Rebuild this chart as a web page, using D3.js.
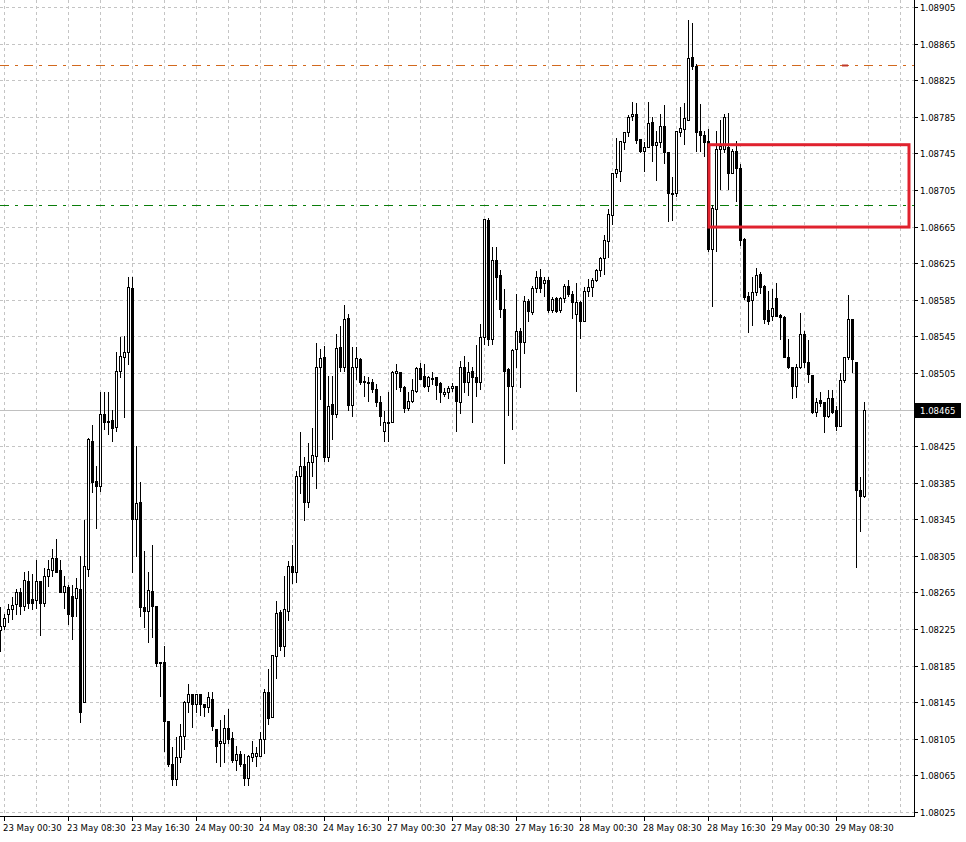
<!DOCTYPE html>
<html><head><meta charset="utf-8">
<script src="https://cdn.jsdelivr.net/npm/d3@7"></script>
<style>html,body{margin:0;padding:0;background:#fff;}svg{display:block;}</style>
</head><body>
<svg id="chart" width="966" height="842"></svg>
<script>
// ---- data (M30 candles) ----
const timeLabels = ["23 May 00:30","23 May 08:30","23 May 16:30","24 May 00:30","24 May 08:30","24 May 16:30","27 May 00:30","27 May 08:30","27 May 16:30","28 May 00:30","28 May 08:30","28 May 16:30","29 May 00:30","29 May 08:30"];
const timeLabelCandle = [1,17,33,49,65,81,97,113,129,145,161,177,193,209];
const priceTicks = [1.08025,1.08065,1.08105,1.08145,1.08185,1.08225,1.08265,1.08305,1.08345,1.08385,1.08425,1.08465,1.08505,1.08545,1.08585,1.08625,1.08665,1.08705,1.08745,1.08785,1.08825,1.08865,1.08905];
const open = [
1.08224,1.08228,1.08241,1.08247,1.08252,1.08265,1.08250,1.08278,1.08258,1.08257,
1.08278,1.08254,1.08283,1.08290,1.08303,1.08290,1.08265,1.08271,1.08261,1.08259,
1.08269,1.08145,1.08291,1.08431,1.08387,1.08381,1.08460,1.08452,1.08453,1.08446,
1.08507,1.08522,1.08528,1.08598,1.08345,1.08364,1.08249,1.08245,1.08267,1.08250,
1.08189,1.08189,1.08124,1.08077,1.08061,1.08085,1.08108,1.08145,1.08154,1.08143,
1.08154,1.08143,1.08140,1.08149,1.08116,1.08100,1.08100,1.08117,1.08106,1.08082,
1.08088,1.08078,1.08062,1.08085,1.08086,1.08086,1.08105,1.08156,1.08129,1.08195,
1.08244,1.08206,1.08245,1.08294,1.08287,1.08392,1.08403,1.08364,1.08408,1.08414,
1.08511,1.08522,1.08413,1.08471,1.08460,1.08533,1.08511,1.08565,1.08470,1.08511,
1.08520,1.08496,1.08495,1.08495,1.08487,1.08473,1.08441,1.08450,1.08451,1.08505,
1.08506,1.08490,1.08467,1.08474,1.08485,1.08510,1.08502,1.08491,1.08499,1.08500,
1.08494,1.08482,1.08484,1.08488,1.08491,1.08473,1.08512,1.08495,1.08507,1.08500,
1.08495,1.08544,1.08672,1.08542,1.08628,1.08612,1.08575,1.08509,1.08491,1.08531,
1.08551,1.08539,1.08584,1.08572,1.08598,1.08610,1.08603,1.08607,1.08574,1.08587,
1.08574,1.08587,1.08600,1.08591,1.08569,1.08583,1.08562,1.08594,1.08599,1.08607,
1.08618,1.08631,1.08649,1.08678,1.08724,1.08726,1.08757,1.08768,1.08786,1.08788,
1.08761,1.08748,1.08752,1.08779,1.08754,1.08757,1.08775,1.08747,1.08701,1.08702,
1.08768,1.08772,1.08782,1.08850,1.08840,1.08769,1.08765,1.08758,1.08640,1.08684,
1.08750,1.08750,1.08752,1.08724,1.08748,1.08729,1.08651,1.08589,1.08585,1.08593,
1.08613,1.08600,1.08574,1.08567,1.08587,1.08568,1.08566,1.08522,1.08512,1.08491,
1.08512,1.08548,1.08517,1.08503,1.08462,1.08475,1.08473,1.08458,1.08478,1.08464,
1.08447,1.08497,1.08522,1.08564,1.08517,1.08377,1.08370];
const high = [
1.08249,1.08241,1.08252,1.08260,1.08269,1.08270,1.08287,1.08288,1.08285,1.08300,
1.08278,1.08292,1.08301,1.08312,1.08323,1.08300,1.08283,1.08273,1.08273,1.08281,
1.08305,1.08344,1.08434,1.08448,1.08403,1.08484,1.08484,1.08484,1.08465,1.08528,
1.08544,1.08545,1.08610,1.08610,1.08425,1.08386,1.08310,1.08287,1.08317,1.08250,
1.08189,1.08206,1.08124,1.08096,1.08107,1.08121,1.08146,1.08165,1.08154,1.08154,
1.08154,1.08143,1.08156,1.08156,1.08116,1.08126,1.08131,1.08138,1.08112,1.08097,
1.08092,1.08088,1.08087,1.08103,1.08096,1.08112,1.08159,1.08181,1.08197,1.08256,
1.08246,1.08283,1.08299,1.08317,1.08398,1.08440,1.08413,1.08428,1.08445,1.08538,
1.08531,1.08534,1.08502,1.08502,1.08547,1.08556,1.08579,1.08569,1.08533,1.08533,
1.08521,1.08502,1.08501,1.08498,1.08493,1.08480,1.08463,1.08484,1.08507,1.08515,
1.08506,1.08491,1.08484,1.08498,1.08511,1.08516,1.08515,1.08502,1.08506,1.08500,
1.08495,1.08489,1.08491,1.08494,1.08491,1.08518,1.08524,1.08517,1.08512,1.08536,
1.08558,1.08673,1.08674,1.08643,1.08643,1.08618,1.08597,1.08510,1.08531,1.08591,
1.08554,1.08589,1.08586,1.08600,1.08616,1.08619,1.08610,1.08610,1.08588,1.08588,
1.08588,1.08602,1.08607,1.08594,1.08603,1.08584,1.08599,1.08608,1.08609,1.08619,
1.08632,1.08656,1.08684,1.08723,1.08762,1.08758,1.08768,1.08787,1.08801,1.08800,
1.08761,1.08757,1.08801,1.08785,1.08769,1.08788,1.08798,1.08747,1.08719,1.08769,
1.08796,1.08800,1.08891,1.08887,1.08843,1.08799,1.08769,1.08772,1.08689,1.08769,
1.08782,1.08788,1.08789,1.08750,1.08759,1.08733,1.08652,1.08593,1.08610,1.08620,
1.08615,1.08601,1.08594,1.08597,1.08603,1.08569,1.08567,1.08542,1.08512,1.08515,
1.08570,1.08551,1.08541,1.08503,1.08478,1.08484,1.08473,1.08486,1.08486,1.08469,
1.08505,1.08522,1.08590,1.08564,1.08517,1.08391,1.08473];
const low = [
1.08201,1.08225,1.08233,1.08236,1.08241,1.08241,1.08246,1.08248,1.08247,1.08248,
1.08218,1.08250,1.08272,1.08283,1.08287,1.08265,1.08248,1.08230,1.08214,1.08239,
1.08123,1.08145,1.08283,1.08375,1.08335,1.08376,1.08444,1.08438,1.08431,1.08441,
1.08500,1.08457,1.08515,1.08287,1.08305,1.08239,1.08227,1.08211,1.08216,1.08185,
1.08152,1.08092,1.08075,1.08055,1.08055,1.08080,1.08094,1.08134,1.08118,1.08134,
1.08131,1.08130,1.08134,1.08115,1.08080,1.08075,1.08080,1.08100,1.08080,1.08071,
1.08075,1.08055,1.08054,1.08081,1.08075,1.08086,1.08090,1.08121,1.08129,1.08172,
1.08202,1.08195,1.08235,1.08275,1.08276,1.08374,1.08344,1.08358,1.08392,1.08379,
1.08476,1.08409,1.08409,1.08433,1.08457,1.08507,1.08507,1.08465,1.08458,1.08498,
1.08493,1.08480,1.08474,1.08484,1.08469,1.08448,1.08431,1.08431,1.08451,1.08487,
1.08485,1.08462,1.08465,1.08473,1.08484,1.08498,1.08490,1.08485,1.08493,1.08476,
1.08473,1.08480,1.08478,1.08485,1.08441,1.08461,1.08484,1.08481,1.08451,1.08480,
1.08487,1.08537,1.08535,1.08537,1.08586,1.08566,1.08406,1.08459,1.08444,1.08512,
1.08490,1.08527,1.08562,1.08569,1.08593,1.08593,1.08589,1.08572,1.08572,1.08572,
1.08572,1.08583,1.08589,1.08565,1.08485,1.08543,1.08562,1.08589,1.08589,1.08605,
1.08611,1.08613,1.08632,1.08668,1.08719,1.08715,1.08750,1.08764,1.08782,1.08756,
1.08746,1.08726,1.08752,1.08737,1.08716,1.08752,1.08735,1.08671,1.08672,1.08698,
1.08764,1.08755,1.08781,1.08837,1.08748,1.08748,1.08742,1.08638,1.08578,1.08638,
1.08706,1.08746,1.08706,1.08724,1.08693,1.08645,1.08586,1.08550,1.08557,1.08590,
1.08592,1.08560,1.08558,1.08563,1.08567,1.08542,1.08522,1.08510,1.08478,1.08479,
1.08510,1.08511,1.08495,1.08461,1.08458,1.08469,1.08440,1.08457,1.08461,1.08443,
1.08447,1.08495,1.08520,1.08506,1.08293,1.08332,1.08369];
const close = [
1.08228,1.08237,1.08247,1.08251,1.08265,1.08250,1.08279,1.08254,1.08254,1.08278,
1.08254,1.08283,1.08291,1.08303,1.08287,1.08265,1.08272,1.08241,1.08239,1.08270,
1.08134,1.08294,1.08433,1.08386,1.08381,1.08460,1.08451,1.08451,1.08445,1.08507,
1.08523,1.08528,1.08599,1.08345,1.08363,1.08249,1.08245,1.08268,1.08250,1.08188,
1.08188,1.08124,1.08077,1.08061,1.08085,1.08108,1.08145,1.08154,1.08143,1.08154,
1.08143,1.08140,1.08151,1.08119,1.08097,1.08103,1.08117,1.08105,1.08082,1.08088,
1.08077,1.08062,1.08086,1.08090,1.08090,1.08105,1.08156,1.08128,1.08197,1.08242,
1.08206,1.08247,1.08294,1.08287,1.08392,1.08403,1.08364,1.08408,1.08415,1.08511,
1.08521,1.08413,1.08469,1.08460,1.08532,1.08511,1.08564,1.08470,1.08512,1.08521,
1.08495,1.08495,1.08494,1.08487,1.08473,1.08458,1.08451,1.08451,1.08506,1.08507,
1.08490,1.08467,1.08474,1.08486,1.08510,1.08498,1.08491,1.08500,1.08498,1.08492,
1.08484,1.08484,1.08489,1.08491,1.08474,1.08512,1.08495,1.08506,1.08500,1.08495,
1.08544,1.08673,1.08542,1.08628,1.08610,1.08575,1.08507,1.08491,1.08530,1.08551,
1.08539,1.08584,1.08573,1.08598,1.08610,1.08598,1.08607,1.08574,1.08586,1.08573,
1.08587,1.08600,1.08591,1.08583,1.08583,1.08562,1.08594,1.08599,1.08607,1.08618,
1.08631,1.08650,1.08679,1.08723,1.08728,1.08758,1.08768,1.08785,1.08788,1.08760,
1.08748,1.08752,1.08778,1.08754,1.08757,1.08775,1.08746,1.08702,1.08702,1.08769,
1.08773,1.08784,1.08849,1.08840,1.08768,1.08765,1.08757,1.08640,1.08685,1.08750,
1.08753,1.08785,1.08724,1.08748,1.08729,1.08650,1.08588,1.08584,1.08593,1.08612,
1.08599,1.08564,1.08562,1.08576,1.08567,1.08566,1.08522,1.08512,1.08491,1.08512,
1.08547,1.08517,1.08504,1.08462,1.08473,1.08472,1.08458,1.08478,1.08462,1.08447,
1.08497,1.08522,1.08564,1.08520,1.08377,1.08370,1.08465];
const lastPrice = 1.08465;
const levelPrices = [1.08842, 1.08689];
const levelColors = ["#d2691e", "#0a7d0a"];
const zoneCandles = [177.25, 227.25];
const zonePrices = [1.08755, 1.08665];
const markerCandle = 211;

// ---- layout ----
const W = 966, H = 842, plotR = 914, plotB = 816;
const svg = d3.select("#chart");
const x = d3.scaleLinear().domain([0, 228.5]).range([0, plotR]);
const y = d3.scaleLinear().domain([1.08025, 1.08905]).range([812.5, 7.5]);
const py = p => Math.floor(y(p)) + 0.5;
const FONT = "'DejaVu Sans Condensed', 'DejaVu Sans', Tahoma, sans-serif";

svg.append("rect").attr("width", W).attr("height", H).attr("fill", "#fff");

// grid
const grid = svg.append("g").attr("class", "grid");
grid.selectAll("line.h").data(priceTicks).join("line").attr("class", "h")
  .attr("x1", 0).attr("x2", plotR).attr("y1", d => py(d)).attr("y2", d => py(d))
  .style("stroke", "#c4c4c4").style("stroke-dasharray", "3,3");
const vIdx = d3.range(1, 229, 8);
grid.selectAll("line.v").data(vIdx).join("line").attr("class", "v")
  .attr("x1", d => Math.round(x(d)) + 0.5).attr("x2", d => Math.round(x(d)) + 0.5)
  .attr("y1", 0).attr("y2", plotB)
  .style("stroke", "#c4c4c4").style("stroke-dasharray", "3,3");

// current price line
svg.append("line").attr("class", "last")
  .attr("x1", 0).attr("x2", plotR).attr("y1", py(lastPrice)).attr("y2", py(lastPrice))
  .style("stroke", "#c0c0c0");

// level lines (dash-dot drawn as filled segments: 9 on, 6 off, 3 on, 6 off)
const pattern = [[0, 9], [15, 3]];
const starts = d3.range(0, plotR, 24);
levelPrices.forEach((p, k) => {
  const segs = [];
  starts.forEach(s => pattern.forEach(([o, l]) => {
    const a = s + o, b = Math.min(s + o + l, plotR);
    if (a < plotR) segs.push([a, b]);
  }));
  svg.append("g").attr("class", "level").selectAll("rect").data(segs).join("rect")
    .attr("x", d => d[0]).attr("width", d => d[1] - d[0])
    .attr("y", Math.floor(y(p))).attr("height", 1)
    .attr("fill", levelColors[k]);
});

// candles
const idx = d3.range(open.length);
const cg = svg.append("g").attr("class", "candles");
cg.selectAll("line.wick").data(idx).join("line").attr("class", "wick")
  .attr("x1", i => Math.round(x(i)) + 0.5).attr("x2", i => Math.round(x(i)) + 0.5)
  .attr("y1", i => Math.floor(y(high[i]))).attr("y2", i => Math.floor(y(low[i])) + 1)
  .style("stroke", "#000");
cg.selectAll("rect.bear").data(idx.filter(i => close[i] < open[i])).join("rect").attr("class", "bear")
  .attr("x", i => Math.round(x(i)) - 1)
  .attr("y", i => Math.floor(y(open[i])))
  .attr("width", 3)
  .attr("height", i => Math.max(1, Math.floor(y(close[i])) - Math.floor(y(open[i])) + 1))
  .style("fill", "#000");
cg.selectAll("rect.bull").data(idx.filter(i => close[i] > open[i])).join("rect").attr("class", "bull")
  .attr("x", i => Math.round(x(i)) - 0.5)
  .attr("y", i => Math.floor(y(close[i])) + 0.5)
  .attr("width", 2)
  .attr("height", i => Math.max(1, Math.floor(y(open[i])) - Math.floor(y(close[i]))))
  .style("fill", "#fff").style("stroke", "#000");
cg.selectAll("line.doji").data(idx.filter(i => close[i] === open[i])).join("line").attr("class", "doji")
  .attr("x1", i => Math.round(x(i)) - 1).attr("x2", i => Math.round(x(i)) + 2)
  .attr("y1", i => py(open[i])).attr("y2", i => py(open[i]))
  .style("stroke", "#000");

// zone rectangle
svg.append("rect").attr("class", "zone")
  .attr("x", x(zoneCandles[0])).attr("y", y(zonePrices[0]))
  .attr("width", x(zoneCandles[1]) - x(zoneCandles[0]))
  .attr("height", y(zonePrices[1]) - y(zonePrices[0]))
  .style("fill", "none").style("stroke", "#e0222e").style("stroke-width", "3px");

// small marker on orange level
svg.append("rect").attr("x", x(markerCandle) - 2).attr("y", py(levelPrices[0]) - 1)
  .attr("width", 6).attr("height", 2).style("fill", "#c0392b");

// axes
svg.append("line").attr("x1", plotR + 0.5).attr("x2", plotR + 0.5).attr("y1", 0).attr("y2", plotB + 1)
  .style("stroke", "#000");
svg.append("line").attr("x1", 0).attr("x2", plotR + 1).attr("y1", plotB + 0.5).attr("y2", plotB + 0.5)
  .style("stroke", "#000");

const ya = svg.append("g").attr("class", "yaxis");
ya.selectAll("line").data(priceTicks).join("line")
  .attr("x1", plotR).attr("x2", plotR + 4).attr("y1", d => py(d)).attr("y2", d => py(d)).style("stroke", "#000");
ya.selectAll("text").data(priceTicks.filter(p => p !== lastPrice)).join("text")
  .attr("x", plotR + 6).attr("y", d => py(d) + 3.5)
  .attr("font-family", FONT).attr("font-size", "9.5px").style("fill", "#000")
  .text(d => d3.format(".5f")(d));

// last price label
svg.append("rect").attr("x", plotR + 1).attr("y", py(lastPrice) - 7.5).attr("width", 46).attr("height", 15).style("fill", "#000");
svg.append("text").attr("x", plotR + 6).attr("y", py(lastPrice) + 3.5)
  .attr("font-family", FONT).attr("font-size", "9.5px").style("fill", "#fff")
  .text(d3.format(".5f")(lastPrice));

const xa = svg.append("g").attr("class", "xaxis");
xa.selectAll("line").data(timeLabelCandle).join("line")
  .attr("x1", d => Math.round(x(d)) + 0.5).attr("x2", d => Math.round(x(d)) + 0.5)
  .attr("y1", plotB).attr("y2", plotB + 5).style("stroke", "#000");
xa.selectAll("text").data(timeLabels).join("text")
  .attr("x", (d, k) => Math.round(x(timeLabelCandle[k])) - 1).attr("y", plotB + 15)
  .attr("font-family", FONT).attr("font-size", "9.5px").style("fill", "#000")
  .text(d => d);
</script>
</body></html>
